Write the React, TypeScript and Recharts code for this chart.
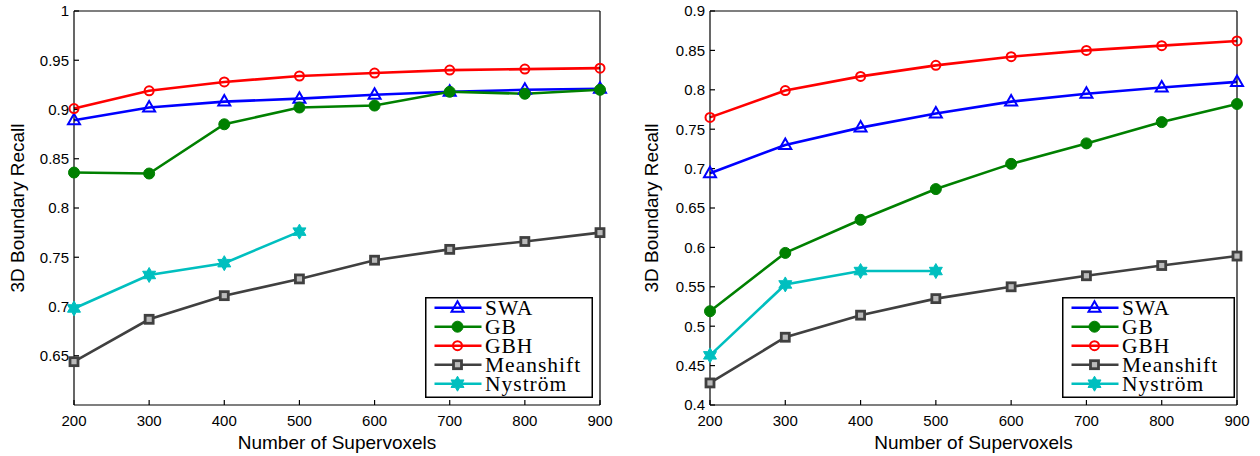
import React from "react";
import { LineChart, Line, XAxis, YAxis, Legend } from "recharts";

// x categories (number of supervoxels)
const supervoxels = [200, 300, 400, 500, 600, 700, 800, 900];

// left panel
const swaLeft = [0.889, 0.902, 0.908, 0.911, 0.915, 0.918, 0.92, 0.921];
const gbLeft = [0.836, 0.835, 0.885, 0.902, 0.904, 0.918, 0.916, 0.92];
const gbhLeft = [0.901, 0.919, 0.928, 0.934, 0.937, 0.94, 0.941, 0.942];
const meanshiftLeft = [0.644, 0.687, 0.711, 0.728, 0.747, 0.758, 0.766, 0.775];
const nystromLeft = [0.698, 0.732, 0.744, 0.776];
const yTicksLeft = [0.65, 0.7, 0.75, 0.8, 0.85, 0.9, 0.95, 1];

// right panel
const swaRight = [0.694, 0.73, 0.752, 0.77, 0.785, 0.795, 0.803, 0.81];
const gbRight = [0.519, 0.593, 0.635, 0.674, 0.706, 0.732, 0.759, 0.782];
const gbhRight = [0.765, 0.799, 0.817, 0.831, 0.842, 0.85, 0.856, 0.862];
const meanshiftRight = [0.428, 0.486, 0.514, 0.535, 0.55, 0.564, 0.577, 0.589];
const nystromRight = [0.463, 0.553, 0.57, 0.57];
const yTicksRight = [0.4, 0.45, 0.5, 0.55, 0.6, 0.65, 0.7, 0.75, 0.8, 0.85, 0.9];

const methods = [
  { key: "swa", name: "SWA", color: "#0000FF", shape: "triangle" },
  { key: "gb", name: "GB", color: "#008000", shape: "dot" },
  { key: "gbh", name: "GBH", color: "#FF0000", shape: "circle" },
  { key: "meanshift", name: "Meanshift", color: "#404040", shape: "square" },
  { key: "nystrom", name: "Nyström", color: "#00BFBF", shape: "star" },
];

const buildRows = (swa: number[], gb: number[], gbh: number[], ms: number[], ny: number[]) =>
  supervoxels.map((n, i) => ({
    n,
    swa: swa[i],
    gb: gb[i],
    gbh: gbh[i],
    meanshift: ms[i],
    nystrom: ny[i] ?? null,
  }));

const leftRows = buildRows(swaLeft, gbLeft, gbhLeft, meanshiftLeft, nystromLeft);
const rightRows = buildRows(swaRight, gbRight, gbhRight, meanshiftRight, nystromRight);

const sans = "'Liberation Sans', Arial, Helvetica, sans-serif";
const serif = "'Liberation Serif', 'Times New Roman', serif";

function Marker({ shape, cx, cy, color }: { shape: string; cx: number; cy: number; color: string }) {
  if (shape === "triangle") {
    const pts = `${cx},${cy - 6.5} ${cx - 6},${cy + 4} ${cx + 6},${cy + 4}`;
    return <polygon points={pts} fill="none" stroke={color} strokeWidth={2} strokeLinejoin="miter" />;
  }
  if (shape === "dot") return <circle cx={cx} cy={cy} r={5.5} fill={color} stroke={color} strokeWidth={1} />;
  if (shape === "circle") return <circle cx={cx} cy={cy} r={4.5} fill="none" stroke={color} strokeWidth={2} />;
  if (shape === "square")
    return <rect x={cx - 4} y={cy - 4} width={8} height={8} fill="#bbb" stroke={color} strokeWidth={2.8} />;
  // hexagram
  const pts: string[] = [];
  for (let k = 0; k < 12; k++) {
    const r = k % 2 === 0 ? 7.5 : 4.3;
    const a = -Math.PI / 2 + (k * Math.PI) / 6;
    pts.push(`${cx + r * Math.cos(a)},${cy + r * Math.sin(a)}`);
  }
  return <polygon points={pts.join(" ")} fill={color} stroke={color} strokeWidth={1} />;
}

const renderLegend = (w: number) => () => (
  <svg width={w} height={101} style={{ display: "block" }}>
    <rect x={0.75} y={0.75} width={w - 1.5} height={99.5} fill="#fff" stroke="#000" strokeWidth={1.5} />
    {methods.map((m, i) => {
      const cy = 10.7 + i * 19;
      return (
        <g key={m.key}>
          <line x1={9.5} x2={56.5} y1={cy} y2={cy} stroke={m.color} strokeWidth={2.6} />
          <Marker shape={m.shape} cx={32.5} cy={cy} color={m.color} />
          <text x={60} y={cy + 7.5} fontFamily={serif} fontSize={21.5} letterSpacing={1} fill="#000">
            {m.name}
          </text>
        </g>
      );
    })}
  </svg>
);

const tickStyle = { fontSize: 15, fill: "#000", fontFamily: sans };
const axisStroke = { stroke: "#000", strokeWidth: 1.2 };

interface PanelProps {
  rows: any[];
  yDomain: [number, number];
  yTicks: number[];
  yAxisWidth: number;
  marginRight: number;
  legendLeft: number;
  legendWidth: number;
  yLabelDx: number;
}

function Panel({ rows, yDomain, yTicks, yAxisWidth, marginRight, legendLeft, legendWidth, yLabelDx }: PanelProps) {
  return (
    <LineChart width={630} height={456} data={rows} margin={{ top: 10, right: marginRight, bottom: 0, left: 0 }}>
      <XAxis
        dataKey="n"
        type="number"
        domain={[200, 900]}
        ticks={supervoxels}
        interval={0}
        height={51}
        tickSize={-5}
        tickMargin={15}
        axisLine={axisStroke}
        tickLine={axisStroke}
        tick={tickStyle}
        label={{
          value: "Number of Supervoxels",
          position: "center",
          dy: 12,
          style: { fontSize: 19, fill: "#000", fontFamily: sans },
        }}
      />
      <XAxis
        xAxisId="top"
        orientation="top"
        type="number"
        domain={[200, 900]}
        ticks={supervoxels}
        interval={0}
        height={1}
        tickSize={-5}
        axisLine={axisStroke}
        tickLine={axisStroke}
        tick={false}
      />
      <YAxis
        type="number"
        domain={yDomain}
        ticks={yTicks}
        interval={0}
        width={yAxisWidth}
        tickSize={-5}
        tickMargin={10}
        axisLine={axisStroke}
        tickLine={axisStroke}
        tick={tickStyle}
        tickFormatter={(v) => String(v)}
        label={{
          value: "3D Boundary Recall",
          angle: -90,
          position: "center",
          dx: yLabelDx,
          style: { fontSize: 19, fill: "#000", fontFamily: sans },
        }}
      />
      <YAxis
        yAxisId="r"
        orientation="right"
        type="number"
        domain={yDomain}
        ticks={yTicks}
        interval={0}
        width={1}
        tickSize={-5}
        axisLine={axisStroke}
        tickLine={axisStroke}
        tick={false}
      />
      <Legend
        layout="vertical"
        align="center"
        verticalAlign="middle"
        content={renderLegend(legendWidth)}
        wrapperStyle={{ left: legendLeft, top: 297, width: legendWidth, height: 101, lineHeight: 0 }}
      />
      {methods.map((m) => (
        <Line
          key={m.key}
          dataKey={m.key}
          name={m.name}
          stroke={m.color}
          strokeWidth={2.6}
          connectNulls={false}
          isAnimationActive={false}
          activeDot={false}
          dot={(p: any) =>
            p.cy == null || p.value == null ? (
              <g key={`${m.key}-${p.index}`} />
            ) : (
              <Marker key={`${m.key}-${p.index}`} shape={m.shape} cx={p.cx} cy={p.cy} color={m.color} />
            )
          }
        />
      ))}
    </LineChart>
  );
}

export default function App() {
  return (
    <div style={{ position: "absolute", left: 0, top: 0, width: 1260, height: 456, background: "#fff" }}>
      <div style={{ position: "absolute", left: 0, top: 0 }}>
        <Panel
          rows={leftRows}
          yDomain={[0.6, 1]}
          yTicks={yTicksLeft}
          yAxisWidth={74}
          marginRight={29}
          legendLeft={425}
          legendWidth={168}
          yLabelDx={-20}
        />
      </div>
      <div style={{ position: "absolute", left: 630, top: 0 }}>
        <Panel
          rows={rightRows}
          yDomain={[0.4, 0.9]}
          yTicks={yTicksRight}
          yAxisWidth={80}
          marginRight={22}
          legendLeft={432}
          legendWidth={173}
          yLabelDx={-19}
        />
      </div>
    </div>
  );
}
